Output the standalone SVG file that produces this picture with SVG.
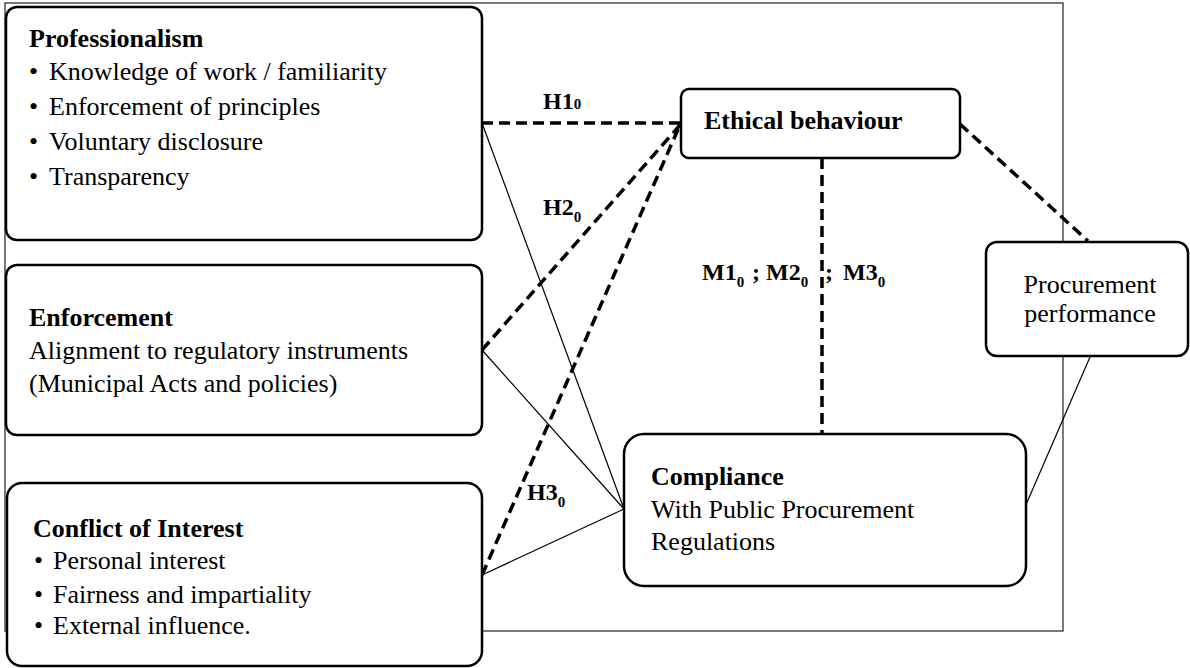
<svg xmlns="http://www.w3.org/2000/svg" width="1190" height="668" viewBox="0 0 1190 668">
<style>
.box{fill:#fff;stroke:#000;stroke-width:2.5}
.frame{fill:none;stroke:#333;stroke-width:1.3}
.dash{fill:none;stroke:#000;stroke-width:3.5;stroke-dasharray:11 6}
.thin{fill:none;stroke:#000;stroke-width:1.2}
text{font-family:"Liberation Serif","Times New Roman",serif;font-size:26px;fill:#000}
.b{font-weight:bold}
.lbl{font-family:"Liberation Serif","Times New Roman",serif;font-weight:bold;font-size:24px}
.sub{font-size:15px}
</style>
<rect id="frame" class="frame" x="5" y="3" width="1058" height="628"/>
<g id="connectors">
<line class="dash" x1="482" y1="123" x2="680" y2="123"/>
<line class="dash" x1="482" y1="350" x2="680" y2="125"/>
<line class="dash" x1="482" y1="575" x2="680" y2="125"/>
<line class="dash" x1="822" y1="158" x2="822" y2="434"/>
<line class="dash" x1="960" y1="124" x2="1088" y2="241"/>
<line class="thin" x1="482" y1="123" x2="624" y2="509"/>
<line class="thin" x1="482" y1="350" x2="624" y2="509"/>
<line class="thin" x1="482" y1="575" x2="624" y2="509"/>
<line class="thin" x1="1025" y1="507" x2="1090" y2="357"/>
</g>
<g id="labels">
<text class="lbl" x="543" y="109">H1<tspan class="sub">0</tspan></text>
<text class="lbl" x="543" y="215">H2<tspan class="sub" dy="7">0</tspan></text>
<text class="lbl" x="527" y="500">H3<tspan class="sub" dy="7">0</tspan></text>
<text class="lbl" x="702" y="280">M1<tspan class="sub" dy="7">0</tspan><tspan dy="-7" x="752">;</tspan><tspan x="766">M2</tspan><tspan class="sub" dy="7">0</tspan><tspan dy="-7" x="825">;</tspan><tspan x="843">M3</tspan><tspan class="sub" dy="7">0</tspan></text>
</g>
<g id="professionalism">
<rect class="box" x="6" y="7" width="476" height="233" rx="11"/>
<text class="b" x="29" y="47">Professionalism</text>
<text x="29" y="80">•</text><text x="49" y="80">Knowledge of work / familiarity</text>
<text x="29" y="115">•</text><text x="49" y="115">Enforcement of principles</text>
<text x="29" y="150">•</text><text x="49" y="150">Voluntary disclosure</text>
<text x="29" y="185">•</text><text x="49" y="185">Transparency</text>
</g>
<g id="enforcement">
<rect class="box" x="6" y="265" width="476" height="170" rx="11"/>
<text class="b" x="29" y="326">Enforcement</text>
<text x="29" y="359">Alignment to regulatory instruments</text>
<text x="29" y="392">(Municipal Acts and policies)</text>
</g>
<g id="conflict">
<rect class="box" x="7" y="483" width="475" height="183" rx="15"/>
<text class="b" x="33" y="537">Conflict of Interest</text>
<text x="34" y="569">•</text><text x="53" y="569">Personal interest</text>
<text x="34" y="603">•</text><text x="53" y="603">Fairness and impartiality</text>
<text x="34" y="634">•</text><text x="53" y="634">External influence.</text>
</g>
<g id="ethical">
<rect class="box" x="681" y="89" width="279" height="69" rx="8"/>
<text class="b" x="704" y="129">Ethical behaviour</text>
</g>
<g id="compliance">
<rect class="box" x="624" y="434" width="402" height="152" rx="20"/>
<text class="b" x="651" y="485">Compliance</text>
<text x="651" y="518">With Public Procurement</text>
<text x="651" y="550">Regulations</text>
</g>
<g id="procurement">
<rect class="box" x="986" y="242" width="202" height="114" rx="11"/>
<text x="1090" y="293" text-anchor="middle">Procurement</text>
<text x="1090" y="322" text-anchor="middle">performance</text>
</g>
</svg>
